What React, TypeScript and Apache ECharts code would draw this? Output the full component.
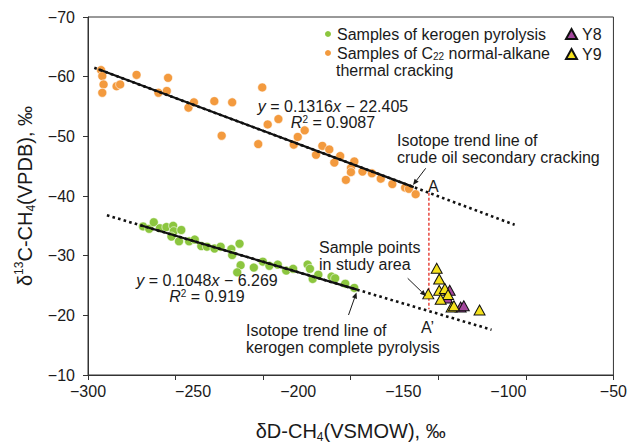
import React, { useEffect, useRef } from "react";
import * as echarts from "echarts";

// ---------- data ----------
const kerogenPyrolysis: [number, number][] = [
  [-273.8, -34.9], [-270.9, -34.5], [-268.7, -35.6], [-265.8, -34.6], [-262.7, -34.8],
  [-259.5, -35.0], [-259.2, -34.1], [-255.6, -34.3], [-260.3, -33.2], [-256.7, -32.4],
  [-251.9, -32.4], [-249.2, -32.7], [-246.1, -31.6], [-243.4, -31.5], [-239.8, -31.2],
  [-236.9, -31.5], [-231.8, -31.1], [-231.4, -30.1], [-227.9, -32.0], [-227.4, -28.4],
  [-229.0, -27.2], [-221.1, -28.0], [-216.8, -29.0], [-213.7, -28.3], [-209.7, -28.5],
  [-205.7, -27.5], [-202.4, -27.8], [-195.5, -28.5], [-194.4, -27.8], [-193.1, -26.1],
  [-190.4, -26.8], [-184.1, -26.5], [-182.4, -26.2], [-177.6, -25.3], [-173.3, -24.6],
];

const alkaneCracking: [number, number][] = [
  [-293.8, -61.1], [-293.2, -60.1], [-292.6, -58.7], [-293.2, -57.3], [-286.4, -58.4],
  [-284.7, -58.7], [-276.9, -60.3], [-266.5, -57.3], [-262.5, -57.6], [-261.9, -59.8],
  [-252.2, -54.8], [-249.6, -55.7], [-239.9, -55.9], [-231.4, -55.7], [-236.4, -50.1],
  [-219.0, -48.7], [-217.1, -58.2], [-214.5, -52.0], [-209.4, -52.9], [-202.1, -48.6],
  [-200.2, -49.9], [-196.9, -51.0], [-191.5, -46.9], [-188.5, -48.4], [-185.2, -47.8],
  [-180.0, -46.7], [-182.8, -45.6], [-173.3, -45.8], [-174.9, -44.7], [-174.9, -44.0],
  [-169.4, -44.1], [-164.9, -43.8], [-177.3, -42.7], [-160.7, -42.9], [-155.2, -42.0],
  [-149.1, -41.4], [-147.3, -41.2], [-144.1, -40.3],
];

const sampleY8: [number, number][] = [
  [-127.9, -24.2], [-129.1, -22.9], [-122.7, -21.4], [-121.2, -21.6],
];

const sampleY9: [number, number][] = [
  [-134.1, -27.9], [-132.9, -26.1], [-138.1, -23.6], [-132.9, -24.2], [-130.2, -24.5],
  [-128.7, -23.5], [-132.2, -22.7], [-127.0, -21.4], [-125.9, -21.6], [-113.7, -20.9],
];

// trend lines (end points, on y = 0.1316x − 22.405 and y = 0.1048x − 6.269)
const oilTrendDotted: [number, number][] = [[-297, -61.49], [-97, -35.17]];
const oilTrendSolid: [number, number][] = [[-295, -61.23], [-145, -41.49]];
const kerogenTrendDotted: [number, number][] = [[-291, -36.77], [-108, -17.59]];
const kerogenTrendSolid: [number, number][] = [[-275, -35.09], [-172, -24.3]];
const projectionAA: [number, number][] = [[-137.8, -40.54], [-137.8, -21.0]];

const xLabelStep = 50;
const yLabelStep = 10;

const KEROGEN = "Samples of kerogen pyrolysis";
const ALKANE = "Samples of C22 normal-alkane thermal cracking";

const FONT = "'Liberation Sans', Arial, Helvetica, sans-serif";
const INK = "#1a1a1a";

function arrow(x1: number, y1: number, x2: number, y2: number) {
  const dx = x2 - x1, dy = y2 - y1;
  const L = Math.hypot(dx, dy);
  const ux = dx / L, uy = dy / L;
  const hl = 6, hw = 2.6;
  const bx = x2 - ux * hl, by = y2 - uy * hl;
  return [
    { type: "line", z: 100, shape: { x1, y1, x2: bx, y2: by }, style: { stroke: INK, lineWidth: 1 } },
    {
      type: "polygon", z: 100,
      shape: { points: [[x2, y2], [bx - uy * hw, by + ux * hw], [bx + uy * hw, by - ux * hw]] },
      style: { fill: INK },
    },
  ];
}

function richFor(lh: number) {
  return {
    i: { fontStyle: "italic", fontSize: 16, fontFamily: FONT, fill: INK, color: INK, lineHeight: lh },
    sup: { fontSize: 10, fontFamily: FONT, verticalAlign: "top", lineHeight: 10, color: INK, fill: INK },
    n: { fontSize: 16, fontFamily: FONT, color: INK, fill: INK, lineHeight: lh },
  };
}

// yc is the vertical centre of the first line
function txt(x: number, yc: number, text: string, lh = 17, align = "left") {
  return {
    type: "text",
    z: 100,
    x,
    y: yc - lh / 2,
    style: {
      text,
      fontSize: 16,
      fontFamily: FONT,
      fill: INK,
      lineHeight: lh,
      align,
      verticalAlign: "top",
      rich: richFor(lh),
    },
  };
}

export default function App() {
  const ref = useRef<HTMLDivElement>(null);

  useEffect(() => {
    if (!ref.current) return;
    const chart = echarts.init(ref.current, undefined, { renderer: "svg" });

    const option: any = {
      animation: false,
      backgroundColor: "#ffffff",
      textStyle: { fontFamily: FONT },
      grid: {
        left: 88, right: 15, top: 17, bottom: 67,
        show: true, borderColor: "#333", borderWidth: 1,
      },
      legend: [
        {
          data: [KEROGEN, ALKANE],
          orient: "vertical",
          left: 323, top: 26, padding: 0,
          itemWidth: 8, itemHeight: 8, itemGap: 3,
          icon: "circle",
          selectedMode: false,
          formatter: (name: string) =>
            name === ALKANE ? "Samples of C{sub|22} normal-alkane" : name,
          textStyle: {
            fontSize: 16, fontFamily: FONT, color: INK, lineHeight: 16,
            rich: {
              sub: { fontSize: 10, fontFamily: FONT, color: INK, verticalAlign: "bottom", lineHeight: 7 },
            },
          },
        },
        {
          data: ["Y8", "Y9"],
          orient: "vertical",
          left: 565, top: 26, padding: 0,
          itemWidth: 11, itemHeight: 10, itemGap: 4,
          selectedMode: false,
          textStyle: { fontSize: 16, fontFamily: FONT, color: INK, lineHeight: 16 },
        },
      ],
      xAxis: [
        {
          type: "value",
          min: -300, max: -50, interval: xLabelStep,
          position: "bottom",
          axisLine: { show: true, onZero: false, lineStyle: { color: "#333", width: 1 } },
          axisTick: { show: false },
          splitLine: { show: false },
          axisLabel: {
            fontSize: 16, fontFamily: FONT, color: INK, margin: 8,
            formatter: (v: number) => String(v).replace("-", "\u2212"),
          },
          name: "\u03b4D-CH{sub|4}(VSMOW), \u2030",
          nameLocation: "middle",
          nameGap: 44,
          nameTextStyle: {
            fontSize: 20, fontFamily: FONT, color: INK, lineHeight: 24,
            rich: {
              sub: { fontSize: 12, fontFamily: FONT, color: INK, verticalAlign: "bottom", lineHeight: 14 },
            },
          },
        },
        {
          type: "value",
          min: 0, max: 6, interval: 1,
          position: "bottom",
          axisLine: { show: false, onZero: false },
          axisTick: { show: true, length: 5, inside: false, lineStyle: { color: "#333", width: 1 } },
          axisLabel: { show: false },
          splitLine: { show: false },
        },
      ],
      yAxis: {
        type: "value",
        min: -70, max: -10, interval: yLabelStep,
        inverse: true,
        axisLine: { show: true, onZero: false, lineStyle: { color: "#333", width: 1 } },
        axisTick: { show: true, length: 5, lineStyle: { color: "#333", width: 1 } },
        splitLine: { show: false },
        axisLabel: {
          fontSize: 16, fontFamily: FONT, color: INK, margin: 13,
          formatter: (v: number) => String(v).replace("-", "\u2212"),
        },
        name: "\u03b4{sup|13}C-CH{sub|4}(VPDB), \u2030",
        nameLocation: "middle",
        nameRotate: 90,
        nameGap: 44,
        nameTextStyle: {
          fontSize: 20, fontFamily: FONT, color: INK, lineHeight: 24,
          rich: {
            sup: { fontSize: 12, fontFamily: FONT, color: INK, verticalAlign: "top", lineHeight: 14 },
            sub: { fontSize: 12, fontFamily: FONT, color: INK, verticalAlign: "bottom", lineHeight: 14 },
          },
        },
      },
      series: [
        {
          name: KEROGEN, type: "scatter", data: kerogenPyrolysis,
          symbol: "circle", symbolSize: 9, z: 2,
          itemStyle: { color: "#8cc63f", borderColor: "#ffffff", borderWidth: 0.6, opacity: 1 },
        },
        {
          name: ALKANE, type: "scatter", data: alkaneCracking,
          symbol: "circle", symbolSize: 9, z: 2,
          itemStyle: { color: "#f39a3e", borderColor: "#ffffff", borderWidth: 0.6, opacity: 1 },
        },
        {
          type: "line", data: oilTrendDotted, showSymbol: false, symbol: "none", z: 3,
          lineStyle: { color: "#111", width: 2.6, type: [2.6, 3.2] },
        },
        {
          type: "line", data: oilTrendSolid, showSymbol: false, symbol: "none", z: 4,
          lineStyle: { color: "#111", width: 2.2, type: "solid" },
        },
        {
          type: "line", data: kerogenTrendDotted, showSymbol: false, symbol: "none", z: 3,
          lineStyle: { color: "#111", width: 2.6, type: [2.6, 3.2] },
        },
        {
          type: "line", data: kerogenTrendSolid, showSymbol: false, symbol: "none", z: 4,
          lineStyle: { color: "#111", width: 2.2, type: "solid" },
        },
        {
          type: "line", data: projectionAA, showSymbol: false, symbol: "none", z: 5,
          lineStyle: { color: "#e8453c", width: 1.5, type: [3, 2] },
        },
        {
          name: "Y8", type: "scatter", data: sampleY8,
          symbol: "triangle", symbolSize: [11, 10], z: 6,
          itemStyle: { color: "#a3479d", borderColor: "#111", borderWidth: 1, opacity: 1 },
        },
        {
          name: "Y9", type: "scatter", data: sampleY9,
          symbol: "triangle", symbolSize: [11, 10], z: 7,
          itemStyle: { color: "#f4e11c", borderColor: "#111", borderWidth: 1, opacity: 1 },
        },
      ],
      graphic: [
        txt(336, 70, "thermal cracking"),
        txt(333, 106.5, "{i|y} = 0.1316{i|x} \u2212 22.405\n{i|R}{sup|2} = 0.9087", 16, "center"),
        txt(397, 140, "Isotope trend line of\ncrude oil secondary cracking"),
        txt(428, 186, "A"),
        txt(207, 280, "{i|y} = 0.1048{i|x} \u2212 6.269\n{i|R}{sup|2} = 0.919", 16, "center"),
        txt(319, 247, "Sample points\nin study area"),
        txt(246, 330, "Isotope trend line of\nkerogen complete pyrolysis"),
        txt(421, 327, "A\u2019"),
        ...arrow(425.7, 168.3, 413, 185),
        ...arrow(348.5, 315, 356.5, 292.5),
        ...arrow(407.7, 278.3, 426, 296),
      ],
    };

    chart.setOption(option);
    return () => chart.dispose();
  }, []);

  return (
    <div
      ref={ref}
      style={{ position: "absolute", left: 0, top: 0, width: 630, height: 448, background: "#fff" }}
    />
  );
}
